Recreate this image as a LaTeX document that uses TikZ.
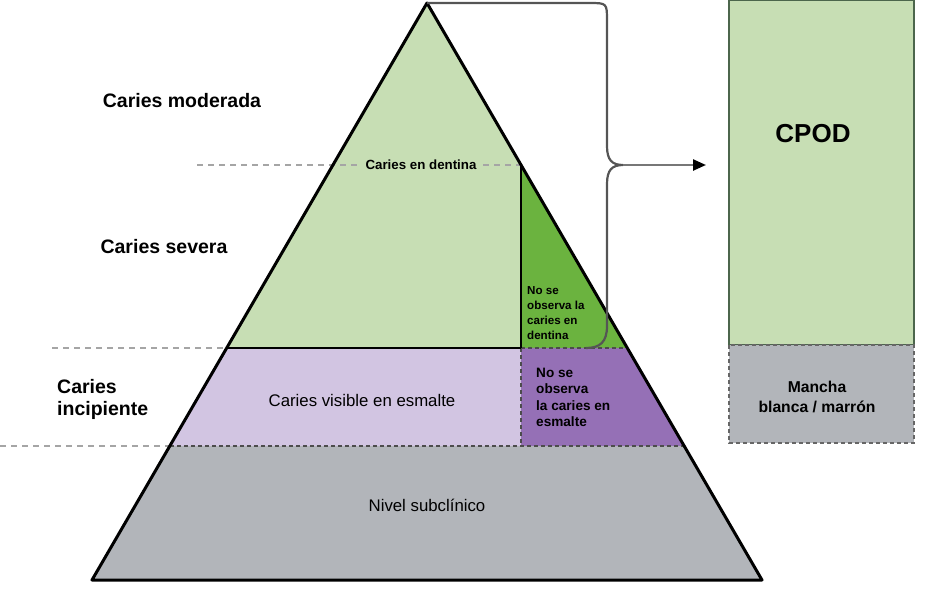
\documentclass[tikz,border=0pt]{standalone}
\usepackage{fontspec}
\setmainfont{Liberation Sans}
\usetikzlibrary{arrows.meta}
\definecolor{lgreen}{HTML}{C7DEB4}
\definecolor{dgreen}{HTML}{6BB33F}
\definecolor{lpurple}{HTML}{D2C5E2}
\definecolor{dpurple}{HTML}{9570B6}
\definecolor{lgray}{HTML}{B2B5BA}
\definecolor{guide}{HTML}{A5A5A5}
\definecolor{bracecol}{HTML}{555555}
\tikzset{
  guideline/.style={guide, line width=2.6pt, dash pattern=on 6pt off 5pt},
  innerdash/.style={black!70, line width=1.4pt, dash pattern=on 4pt off 3pt},
  bigtext/.style={font=\fontsize{19.5}{22}\selectfont\bfseries, align=left},
  midtext/.style={font=\fontsize{16.8}{20}\selectfont},
}
\begin{document}
\begin{tikzpicture}[x=1pt,y=-1pt]
  \useasboundingbox (0,0) rectangle (935,590);
  \coordinate(A) at (427,3);
  \coordinate(BL) at (92,580);
  \coordinate(BR) at (762,580);
  \coordinate(L1) at (226.7,348);
  \coordinate(R1) at (627.3,348);
  \coordinate(L2) at (169.8,446);
  \coordinate(R2) at (684.2,446);
  \coordinate(S0) at (521,165);
  \coordinate(S1) at (521,348);
  \coordinate(S2) at (521,446);
  % layers
  \fill[lgreen] (A) -- (S0) -- (S1) -- (L1) -- cycle;
  \fill[dgreen] (S0) -- (R1) -- (S1) -- cycle;
  \fill[lpurple] (L1) -- (S1) -- (S2) -- (L2) -- cycle;
  \fill[dpurple] (S1) -- (R1) -- (R2) -- (S2) -- cycle;
  \fill[lgray] (L2) -- (R2) -- (BR) -- (BL) -- cycle;
  % guide lines
  \draw[guideline] (197,165) -- (S0);
  \draw[guideline] (52,348) -- (L1);
  \draw[guideline] (0,446) -- (L2);
  \draw[innerdash] (S1) -- (R1);
  \draw[innerdash] (S1) -- (S2);
  \draw[innerdash] (L2) -- (R2);
  \draw[line width=2.4pt] (L1) -- (S1);
  \draw[line width=2.4pt] (S0) -- (S1);
  \draw[line width=3pt, line join=round] (A) -- (BL) -- (BR) -- cycle;
  % brace
  \coordinate(cusp) at (623,165);
  \coordinate(tip) at (706,165);
  \draw[bracecol, line width=2.2pt] (A) -- (589,3) .. controls (607,3) .. (607,21)
    -- (607,146) .. controls (607,160) and (612,165) .. (cusp)
    .. controls (612,165) and (607,170) .. (607,184)
    -- (607,326) .. controls (607,342) and (600,348) .. (586,348);
  \draw[bracecol!80, line width=2.4pt, -{Triangle[length=13pt,width=11pt,color=black]}] (cusp) -- (tip);
  % right column
  \draw[fill=lgreen, draw=black!75!green!40!gray, line width=2pt] (729,0) rectangle (914,345);
  \draw[fill=lgray, draw=black!60, line width=1.8pt, dash pattern=on 4pt off 3pt] (729,345) rectangle (914,443);
  \node(cpod) at (813,134) {\fontsize{26}{30}\selectfont\bfseries CPOD};
  \node(mancha)[align=center, font=\fontsize{15.7}{20}\selectfont\bfseries] at (817,397) {Mancha\\blanca / marrón};
  % labels
  \node(moderada)[bigtext] at (182,101) {Caries moderada};
  \node(severa)[bigtext] at (164,247) {Caries severa};
  \node(incipiente)[bigtext, anchor=west, inner sep=0pt] at (57,399) {Caries\\incipiente};
  \node(dentina)[fill=lgreen, inner xsep=6pt, inner ysep=1pt, font=\fontsize{13.3}{15}\selectfont\bfseries] at (421,165) {Caries en dentina};
  \node(nodent)[anchor=west, inner sep=0pt, align=left, font=\fontsize{11.6}{15}\selectfont\bfseries] at (527,313) {No se\\observa la\\caries en\\dentina};
  \node(noesm)[anchor=west, inner sep=0pt, align=left, font=\fontsize{13.6}{16.5}\selectfont\bfseries] at (536,397.5) {No se\\observa\\la caries en\\esmalte};
  \node(visible)[midtext] at (362,400) {Caries visible en esmalte};
  \node(nivel)[midtext] at (427,505) {Nivel subclínico};
\end{tikzpicture}
\end{document}
